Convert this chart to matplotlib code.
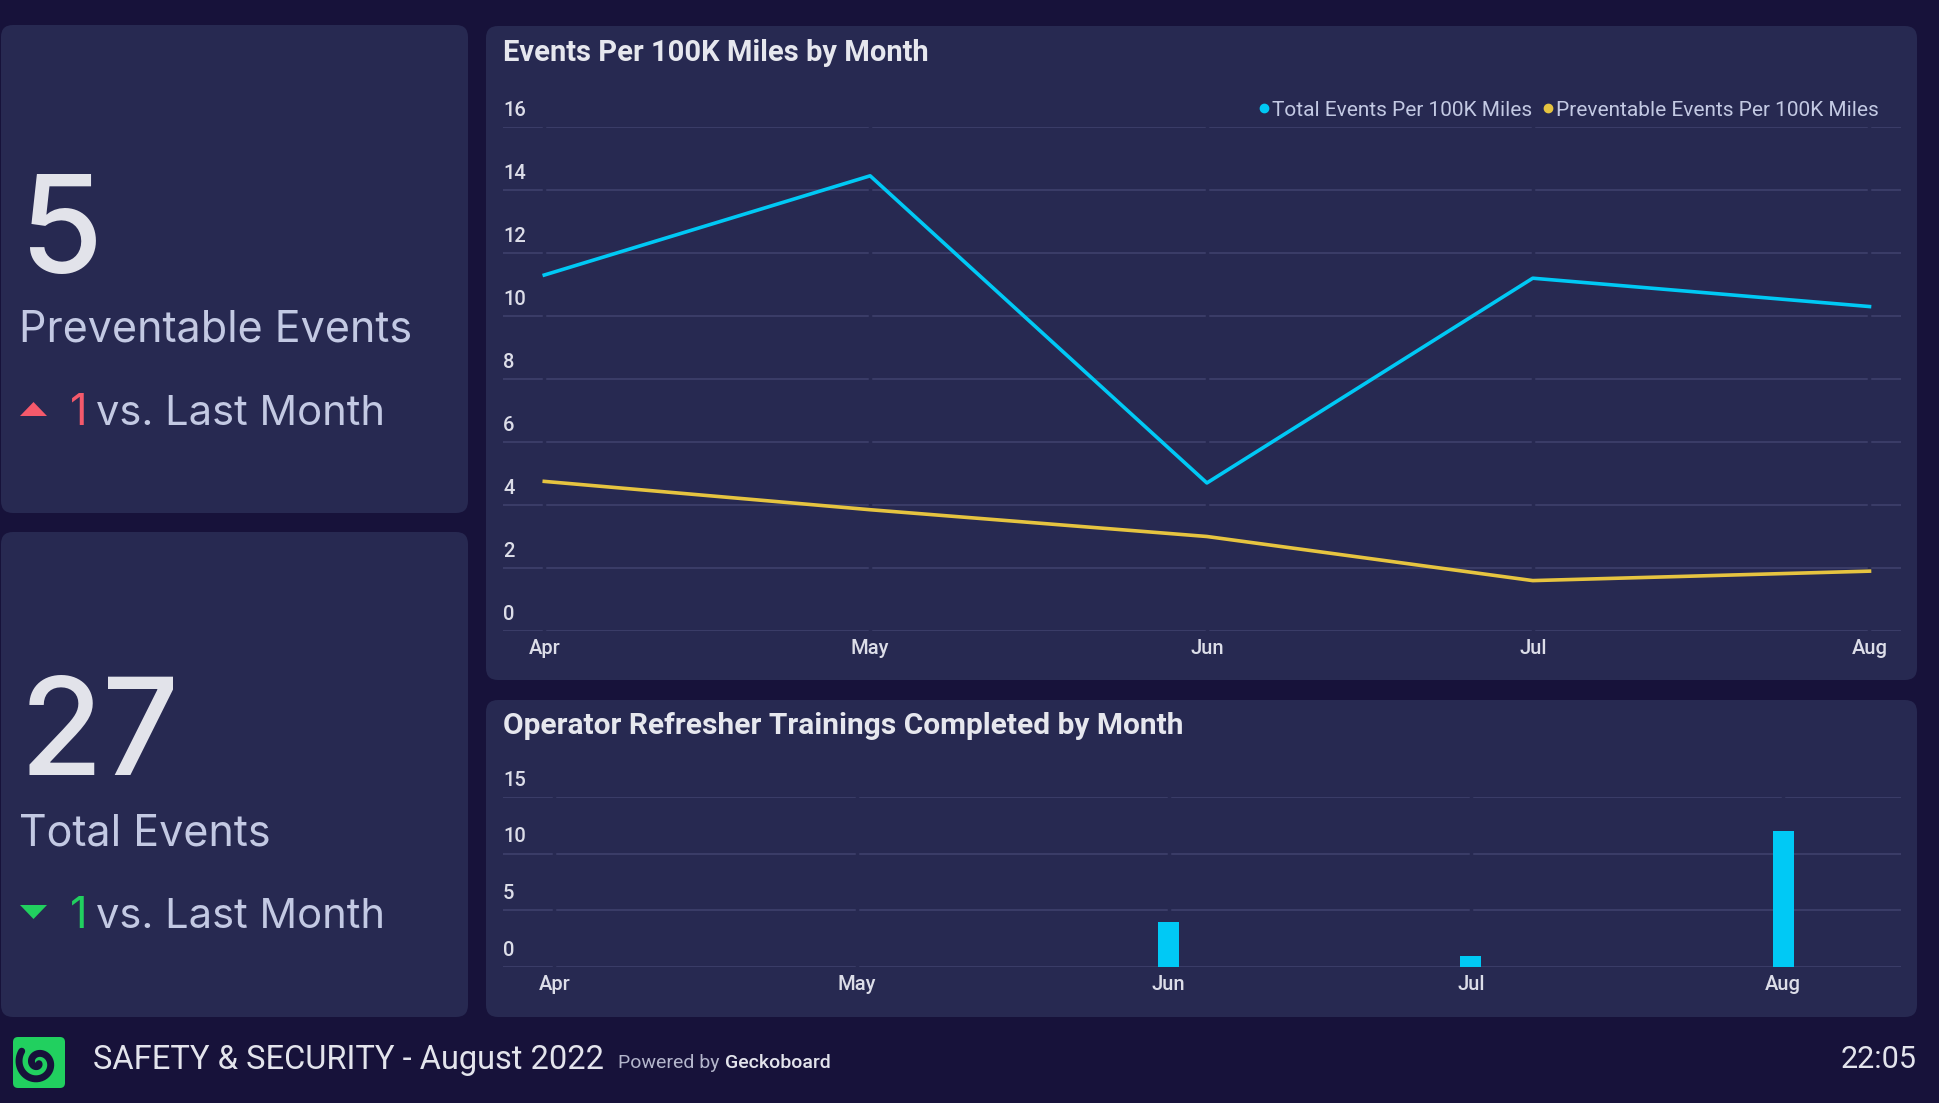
import matplotlib
matplotlib.use("Agg")
import matplotlib.pyplot as plt
import matplotlib.dates as mdates
from matplotlib.patches import FancyBboxPatch, Polygon
from matplotlib.lines import Line2D
from matplotlib.transforms import IdentityTransform
import numpy as np
import datetime as dt

# ---------------- data ----------------
line_months = [dt.date(2022, 4, 1), dt.date(2022, 5, 1), dt.date(2022, 6, 1),
               dt.date(2022, 7, 1), dt.date(2022, 8, 1)]
month_labels = ["Apr", "May", "Jun", "Jul", "Aug"]
total_per_100k = [11.3, 14.45, 4.7, 11.2, 10.3]
preventable_per_100k = [4.75, 3.85, 3.0, 1.6, 1.9]
series_labels = ["Total Events Per 100K Miles", "Preventable Events Per 100K Miles"]
line_yticks = [0, 2, 4, 6, 8, 10, 12, 14, 16]

trainings = [0, 0, 4, 1, 12]
bar_yticks = [0, 5, 10, 15]

kpi_preventable = "5"
kpi_total = "27"
kpi_prev_delta = "1"
kpi_total_delta = "1"

# ---------------- style ----------------
BG = "#17123a"
PANEL = "#272951"
GRID = "#3b3d68"
TXT = "#dcdde8"
SUB = "#c3c9e3"
CYAN = "#00c9f5"
YELLOW = "#e6c440"
RED = "#f5596b"
GREEN = "#21d05f"
KFONT = ["Inter", "DejaVu Sans"]
CFONT = ["Roboto", "DejaVu Sans"]

W, H = 1939, 1103
fig = plt.figure(figsize=(W / 100, H / 100), dpi=100)
fig.patch.set_facecolor(BG)
IT = IdentityTransform()


def P(x, y):
    return (x, H - y)


def panel(x0, y0, x1, y1, r=12):
    p = FancyBboxPatch(P(x0, y1), x1 - x0, y1 - y0,
                       boxstyle=f"round,pad=0,rounding_size={r}",
                       transform=IT, facecolor=PANEL, edgecolor="none", zorder=-5)
    fig.patches.append(p)


def ftext(x, y, s, **kw):
    return fig.text(*P(x, y), s, transform=IT, **kw)


panel(1, 25, 468, 513)
panel(1, 532, 468, 1017)
panel(486, 26, 1917, 680)
panel(486, 700, 1917, 1017)

# ---------------- KPI panels ----------------
def kpi(y_num, y_lbl, y_delta, num, label, delta, color, up):
    ftext(20, y_num, num, fontsize=97, family=KFONT, weight="medium", color="#e2e3ea",
          va="baseline", ha="left")
    ftext(19, y_lbl, label, fontsize=31, family=KFONT, color=SUB, va="baseline", ha="left")
    tri_mid = y_delta - 16
    if up:
        pts = [P(20, tri_mid + 7), P(47, tri_mid + 7), P(33.5, tri_mid - 7)]
    else:
        pts = [P(20, tri_mid - 7), P(47, tri_mid - 7), P(33.5, tri_mid + 7)]
    fig.patches.append(Polygon(pts, closed=True, transform=IT, facecolor=color, edgecolor="none"))
    ftext(70, y_delta, delta, fontsize=31, family=KFONT, color=color, va="baseline", ha="left")
    ftext(96, y_delta, "vs. Last Month", fontsize=30, family=KFONT, color=SUB, va="baseline", ha="left")


kpi(273, 342, 425, kpi_preventable, "Preventable Events", kpi_prev_delta, RED, True)
kpi(775, 845, 928, kpi_total, "Total Events", kpi_total_delta, GREEN, False)

# ---------------- line chart ----------------
def make_axes(left, top, right, bottom):
    ax = fig.add_axes([left / W, 1 - bottom / H, (right - left) / W, (bottom - top) / H])
    ax.set_facecolor("none")
    for s in ax.spines.values():
        s.set_visible(False)
    ax.set_axisbelow(True)
    ax.grid(axis="y", color=GRID, linewidth=1.4)
    ax.grid(axis="x", visible=False)
    ax.tick_params(length=0, colors=TXT, labelsize=14)
    return ax


ax1 = make_axes(503, 127, 1901, 631)
d0 = mdates.date2num(line_months[0])
d1 = mdates.date2num(line_months[-1])
ax1.set_xlim(d0 - 3.8, d1 + 2.9)
ax1.set_ylim(0, 16)
ax1.set_yticks(line_yticks)
ax1.set_yticklabels([])
for m in line_months:
    ax1.axvline(m, color=PANEL, linewidth=2.5, zorder=0.8)
ax1.plot(line_months, total_per_100k, color=CYAN, linewidth=2.6, zorder=3)
ax1.plot(line_months, preventable_per_100k, color=YELLOW, linewidth=2.6, zorder=3)
ax1.set_xticks(line_months)
ax1.set_xticklabels(month_labels, family=CFONT, fontsize=14.5, color=TXT, weight="medium")
ax1.tick_params(axis="x", pad=6)
for v in line_yticks:
    ax1.annotate(str(v), xy=(0, v), xycoords=ax1.get_yaxis_transform(), xytext=(0, 12),
                 textcoords="offset points", ha="left", va="center",
                 fontsize=14.5, family=CFONT, color=TXT, weight="medium")

ftext(503, 53, "Events Per 100K Miles by Month", fontsize=21, family=CFONT,
      weight="bold", color="#e6e7ee", va="center", ha="left")

handles = [Line2D([], [], marker="o", linestyle="", color=CYAN, markersize=6),
           Line2D([], [], marker="o", linestyle="", color=YELLOW, markersize=6)]
fig.legend(handles, series_labels, loc="center right", bbox_to_anchor=(1879 / W, 1 - 110 / H),
           ncol=2, frameon=False, handletextpad=0.05, columnspacing=0.4, handlelength=0.7,
           borderpad=0, borderaxespad=0, prop={"family": CFONT, "size": 15}, labelcolor=SUB)

# ---------------- bar chart ----------------
ax2 = make_axes(503, 797, 1901, 967)
b0 = mdates.date2num(line_months[0])
b1 = mdates.date2num(line_months[-1])
ax2.set_xlim(b0 - 5.1, b1 + 11.7)
ax2.set_ylim(0, 15)
ax2.set_yticks(bar_yticks)
ax2.set_yticklabels([])
for m in line_months:
    ax2.axvline(m, color=PANEL, linewidth=2.5, zorder=0.8)
ax2.bar(line_months, trainings, width=2.1, color=CYAN, zorder=3)
ax2.set_xticks(line_months)
ax2.set_xticklabels(month_labels, family=CFONT, fontsize=14.5, color=TXT, weight="medium")
ax2.tick_params(axis="x", pad=6)
for v in bar_yticks:
    ax2.annotate(str(v), xy=(0, v), xycoords=ax2.get_yaxis_transform(), xytext=(0, 12),
                 textcoords="offset points", ha="left", va="center",
                 fontsize=14.5, family=CFONT, color=TXT, weight="medium")

ftext(503, 726, "Operator Refresher Trainings Completed by Month", fontsize=21.5, family=CFONT,
      weight="bold", color="#e6e7ee", va="center", ha="left")

# ---------------- footer ----------------
logo = FancyBboxPatch(P(13, 1088), 52, 51, boxstyle="round,pad=0,rounding_size=5",
                      transform=IT, facecolor=GREEN, edgecolor="none")
fig.patches.append(logo)
th = np.linspace(0.6, 3.2 * np.pi, 200)
rr = 2.0 * th
cx, cy = 38, 1063
sx = cx + rr * np.cos(th)
sy = cy + rr * np.sin(th)
fig.lines.append(Line2D(sx, H - sy, transform=IT, color=BG, linewidth=5, solid_capstyle="round"))

ftext(93, 1060, "SAFETY & SECURITY - August 2022", fontsize=23.5, family=CFONT, color="#e3e4ec",
      va="center", ha="left")
pw = ftext(618, 1063, "Powered by", fontsize=14, family=CFONT, color="#b4b6cc", va="center", ha="left")
renderer = fig.canvas.get_renderer()
ext = pw.get_window_extent(renderer)
ftext(ext.x1 + 5, 1063, "Geckoboard", fontsize=14, family=CFONT, color="#e3e4ec", weight="medium",
      va="center", ha="left")
ftext(1917, 1060, "22:05", fontsize=22, family=CFONT, color="#e3e4ec", va="center", ha="right")

fig.savefig("out.png", dpi=100, facecolor=BG)
